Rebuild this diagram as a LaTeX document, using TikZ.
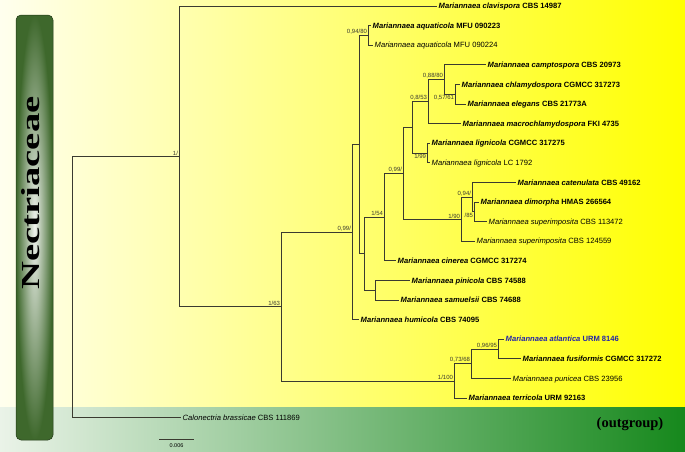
\documentclass[tikz,border=0pt]{standalone}
\usepackage{fontspec}
\setmainfont{Liberation Sans}
\newfontfamily\famserif{Liberation Serif}
\usetikzlibrary{positioning}
\definecolor{bgleft}{RGB}{255,255,238}
\definecolor{bgright}{RGB}{255,255,0}
\definecolor{bandleft}{RGB}{234,243,232}
\definecolor{bandright}{RGB}{22,136,28}
\definecolor{bargreen}{RGB}{62,104,44}
\definecolor{atlblue}{RGB}{36,36,168}
\definecolor{branchc}{RGB}{58,58,48}
\newcommand\taxb[2]{\textbf{\textit{#1} #2}}
\newcommand\taxr[2]{\textit{#1} #2}

\begin{document}
\begin{tikzpicture}[x=1pt,y=-1pt,
  branch/.style={draw=branchc,line width=0.7pt},
  leaf/.style={anchor=west,inner sep=1.5pt,font=\fontsize{7.6}{8}\selectfont,text height=5.4pt,text depth=0pt},
  supp/.style={inner sep=0.8pt,font=\fontsize{6}{6}\selectfont,text=branchc},
  suppup/.style={supp,anchor=south east},
  suppdn/.style={supp,anchor=north east}]
\useasboundingbox (0,0) rectangle (685,451);
% background bands
\shade[left color=bgleft,right color=bgright] (0,0) rectangle (685,407);
\shade[left color=bandleft,right color=bandright] (0,407) rectangle (685,451);
% family bar
\node[rounded corners=5pt,draw=bargreen!55!black,line width=0.5pt,inner color=white!92!bargreen,outer color=bargreen,minimum width=37pt,minimum height=425pt,inner sep=0pt] (bar) at (34.5,227.5) {};
\node[rotate=90,inner sep=0pt] (fam) at (31,193) {\resizebox{193pt}{\height}{\famserif\fontsize{26}{26}\selectfont\bfseries Nectriaceae}};
\node[inner sep=0pt,font=\famserif\bfseries\fontsize{14.5}{15}\selectfont] (outg) at (630,424) {(outgroup)};

% internal nodes of the tree
\coordinate (R) at (72,286.9);
\coordinate (A) at (179,156.2);
\coordinate (B) at (281,306.45);
\coordinate (C) at (352,232.05);
\coordinate (D) at (359,144.5);
\coordinate (aq) at (368,35.4);
\coordinate (E) at (364,253.6);
\coordinate (F) at (384,217);
\coordinate (G) at (375,290.2);
\coordinate (H) at (403,173.2);
\coordinate (M) at (412,127.3);
\coordinate (P) at (428,101.65);
\coordinate (K) at (444,79.5);
\coordinate (N) at (455,94.2);
\coordinate (L) at (427,153);
\coordinate (J) at (461,219.15);
\coordinate (Q) at (472,197.1);
\coordinate (S) at (474,211.8);
\coordinate (T) at (454,380.85);
\coordinate (U) at (471,363.7);
\coordinate (V) at (498,349);

% taxa
\node[leaf] (clav) at (437,6) {\taxb{Mariannaea clavispora}{CBS 14987}};
\node[leaf] (aq1) at (371,25.6) {\taxb{Mariannaea aquaticola}{MFU 090223}};
\node[leaf] (aq2) at (373,45.2) {\taxr{Mariannaea aquaticola}{MFU 090224}};
\node[leaf] (camp) at (486,64.8) {\taxb{Mariannaea camptospora}{CBS 20973}};
\node[leaf] (chlam) at (460,84.4) {\taxb{Mariannaea chlamydospora}{CGMCC 317273}};
\node[leaf] (eleg) at (466,104) {\taxb{Mariannaea elegans}{CBS 21773A}};
\node[leaf] (macro) at (461,123.6) {\taxb{Mariannaea macrochlamydospora}{FKI 4735}};
\node[leaf] (lig1) at (430,143.2) {\taxb{Mariannaea lignicola}{CGMCC 317275}};
\node[leaf] (lig2) at (430,162.8) {\taxr{Mariannaea lignicola}{LC 1792}};
\node[leaf] (caten) at (516,182.4) {\taxb{Mariannaea catenulata}{CBS 49162}};
\node[leaf] (dimor) at (479,202) {\taxb{Mariannaea dimorpha}{HMAS 266564}};
\node[leaf] (sup1) at (487,221.6) {\taxr{Mariannaea superimposita}{CBS 113472}};
\node[leaf] (sup2) at (475,241.2) {\taxr{Mariannaea superimposita}{CBS 124559}};
\node[leaf] (ciner) at (396,260.8) {\taxb{Mariannaea cinerea}{CGMCC 317274}};
\node[leaf] (pini) at (410,280.4) {\taxb{Mariannaea pinicola}{CBS 74588}};
\node[leaf] (samu) at (399,300) {\taxb{Mariannaea samuelsii}{CBS 74688}};
\node[leaf] (humi) at (359,319.6) {\taxb{Mariannaea humicola}{CBS 74095}};
\node[leaf,text=atlblue] (atl) at (504,339.2) {\taxb{Mariannaea atlantica}{URM 8146}};
\node[leaf] (fusi) at (521,358.8) {\taxb{Mariannaea fusiformis}{CGMCC 317272}};
\node[leaf] (puni) at (511,378.4) {\taxr{Mariannaea punicea}{CBS 23956}};
\node[leaf] (terri) at (467,398) {\taxb{Mariannaea terricola}{URM 92163}};
\node[leaf] (calo) at (181,417.6) {\taxr{Calonectria brassicae}{CBS 111869}};

% branches
\foreach \p/\c in {R/A,A/B,B/C,B/T,C/D,D/aq,D/E,E/F,E/G,F/H,H/M,H/J,M/P,M/L,P/K,K/N,J/Q,Q/S,T/U,U/V}
  \draw[branch] (\p) |- (\c);
\foreach \p/\c in {R/calo,A/clav,aq/aq1,aq/aq2,K/camp,N/chlam,N/eleg,P/macro,L/lig1,L/lig2,Q/caten,S/dimor,S/sup1,J/sup2,F/ciner,G/pini,G/samu,C/humi,V/atl,V/fusi,U/puni,T/terri}
  \draw[branch] (\p) |- (\c.west);

% support values
\node[suppup] (sA) at (A) {1/};
\node[suppup] (sB) at (B) {1/63};
\node[suppup] (sC) at (C) {0,99/};
\node[suppup] (saq) at (aq) {0,94/80};
\node[suppup] (sF) at (F) {1/54};
\node[suppup] (sH) at (H) {0,99/};
\node[suppup] (sP) at (P) {0,8/53};
\node[suppup] (sK) at (K) {0,88/80};
\node[suppdn] (sN) at (N) {0,57/61};
\node[suppdn] (sL) at (L) {1/99};
\node[suppup] (sJ) at (J) {1/90};
\node[suppup] (sQ) at (Q) {0,94/};
\node[suppdn] (sS) at (S) {/85};
\node[suppup] (sT) at (T) {1/100};
\node[suppup] (sU) at (U) {0,73/68};
\node[suppup] (sV) at (V) {0,96/95};

% scale bar
\coordinate (sbl) at (159,439);
\coordinate (sbr) at (194,439);
\coordinate (sbm) at (176.5,439);
\draw[branch] (sbl) -- (sbr);
\node[inner sep=0pt,font=\fontsize{5.5}{6}\selectfont,below=4pt of sbm] (sblab) {0.006};
\end{tikzpicture}
\end{document}
